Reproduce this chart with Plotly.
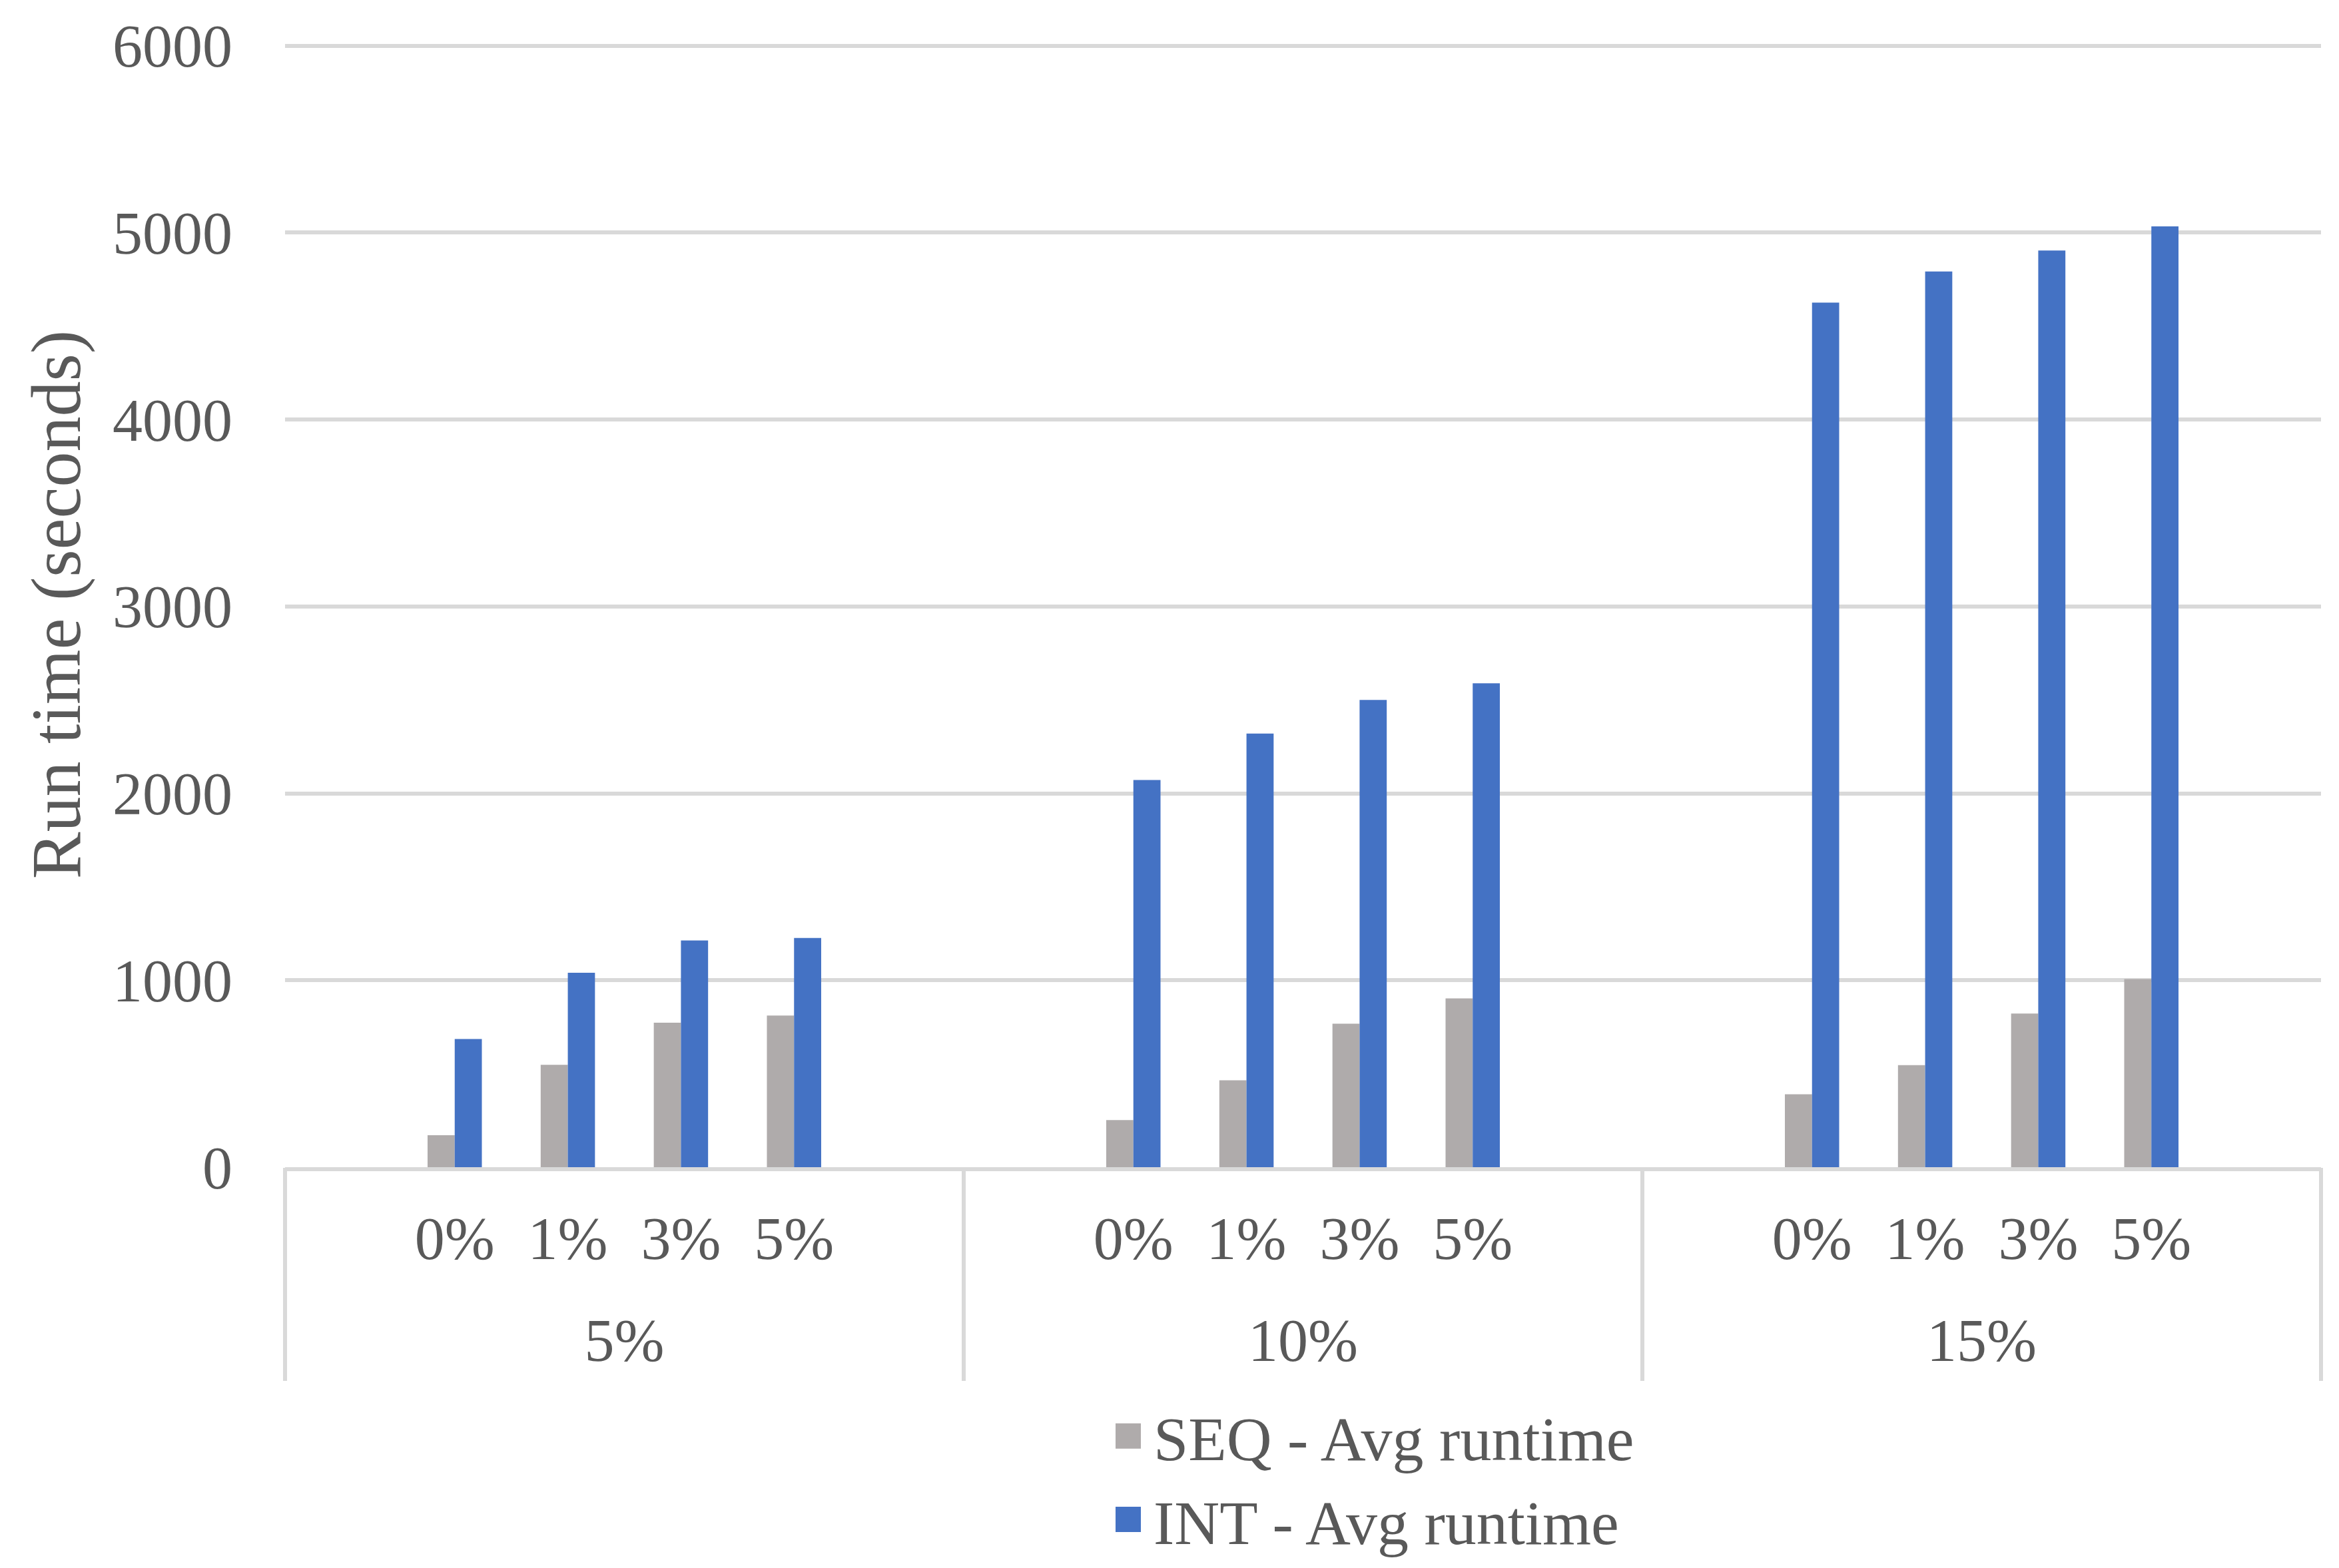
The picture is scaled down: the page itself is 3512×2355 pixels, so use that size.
import plotly.graph_objects as go

groups = ["5%", "10%", "15%"]
subcats = ["", "0%", "1%", "3%", "5%", ""]

seq_5 = [None, 171, 548, 773, 811, None]
seq_10 = [None, 252, 465, 768, 903, None]
seq_15 = [None, 390, 546, 822, 1006, None]

int_5 = [None, 686, 1040, 1213, 1226, None]
int_10 = [None, 2071, 2320, 2500, 2589, None]
int_15 = [None, 4625, 4792, 4904, 5033, None]

y_ticks = [0, 1000, 2000, 3000, 4000, 5000, 6000]

FONT = "Liberation Serif"
TXT = "#595959"
GRID = "#d9d9d9"

# one category slot per (group, sub-category); the outer slots of each group stay empty
slots = [f"{g} #{i}" for g in groups for i in range(len(subcats))]
slot_text = [s for _ in groups for s in subcats]

seq_vals = seq_5 + seq_10 + seq_15
int_vals = int_5 + int_10 + int_15

fig = go.Figure()
fig.add_trace(go.Bar(x=slots, y=seq_vals, name="SEQ - Avg runtime",
                     marker=dict(color="#afabab", line=dict(width=0))))
fig.add_trace(go.Bar(x=slots, y=int_vals, name="INT - Avg runtime",
                     marker=dict(color="#4472c4", line=dict(width=0))))
# the outer (group) category axis, which carries the group labels and the divider lines
fig.add_trace(go.Scatter(x=groups, y=[None] * len(groups), xaxis="x2", yaxis="y",
                         mode="markers", marker=dict(opacity=0), showlegend=False,
                         hoverinfo="skip"))

fig.update_layout(
    width=3512, height=2355,
    paper_bgcolor="white", plot_bgcolor="white",
    margin=dict(l=420, r=35, t=55, b=610),
    barmode="group", bargap=0.52, bargroupgap=0,
    font=dict(family=FONT, color=TXT, size=90),
    showlegend=True,
    legend=dict(orientation="v", x=0.4017, xanchor="left", xref="paper",
                y=0.1163, yanchor="top", yref="container",
                font=dict(family=FONT, size=94, color=TXT), itemwidth=66,
                bgcolor="rgba(0,0,0,0)", tracegroupgap=0),
    xaxis=dict(type="category", categoryorder="array", categoryarray=slots,
               range=[-0.5, len(slots) - 0.5], tickmode="array", tickvals=slots, ticktext=slot_text,
               showline=True, linecolor=GRID, linewidth=6, showgrid=False, zeroline=False,
               ticks="", tickangle=0, ticklabelstandoff=24, automargin=False,
               tickfont=dict(family=FONT, size=90, color=TXT)),
    xaxis2=dict(type="category", categoryorder="array", categoryarray=groups,
                overlaying="x", anchor="y", side="bottom",
                range=[-0.5, len(groups) - 0.5], tickmode="array", tickvals=groups, ticktext=groups,
                ticks="outside", tickson="boundaries", ticklen=320, tickwidth=6, tickcolor=GRID,
                showline=False, showgrid=False, zeroline=False, tickangle=0,
                ticklabelstandoff=200, automargin=False,
                tickfont=dict(family=FONT, size=90, color=TXT)),
    yaxis=dict(range=[0, 6020], tickvals=y_ticks, showgrid=True, gridcolor=GRID, gridwidth=6,
               zeroline=False, showline=False, ticks="", ticklabelstandoff=78, automargin=False,
               tickfont=dict(family=FONT, size=90, color=TXT),
               title=dict(text="Run time (seconds)", font=dict(family=FONT, size=106, color=TXT),
                          standoff=12)),
)

# enlarge the legend colour swatches to the size used in the original chart
post = """
var gd = document.getElementById('{plot_id}');
function grow(){
  var ps = gd.querySelectorAll('g.legendpoints path');
  for (var i = 0; i < ps.length; i++) { ps[i].setAttribute('d', 'M19,19H-19V-19H19Z'); }
}
grow();
if (gd.on) { gd.on('plotly_afterplot', grow); }
var n = 0;
var t = setInterval(function(){ grow(); n += 1; if (n > 60) { clearInterval(t); } }, 50);
"""

fig.write_html("out.html", post_script=post)
